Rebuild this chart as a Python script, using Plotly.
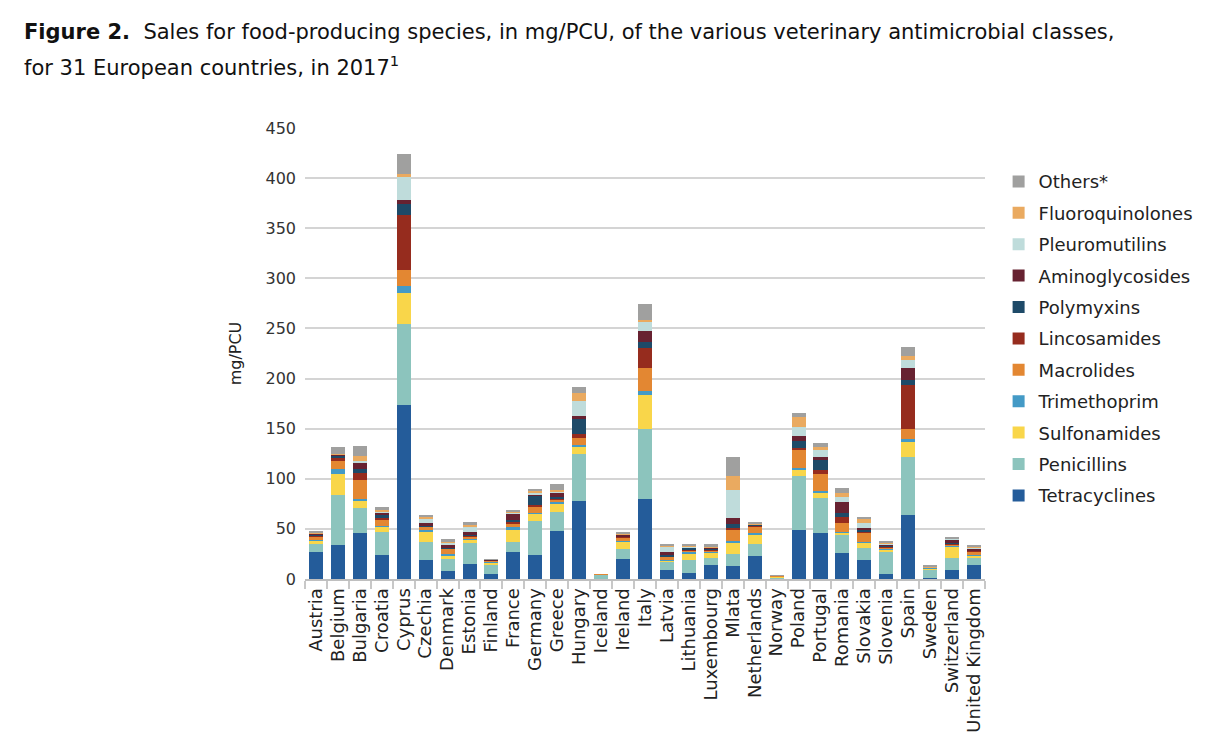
import plotly.graph_objects as go

countries = ["Austria", "Belgium", "Bulgaria", "Croatia", "Cyprus", "Czechia", "Denmark", "Estonia",
             "Finland", "France", "Germany", "Greece", "Hungary", "Iceland", "Ireland", "Italy",
             "Latvia", "Lithuania", "Luxembourg", "Mlata", "Netherlands", "Norway", "Poland",
             "Portugal", "Romania", "Slovakia", "Slovenia", "Spain", "Sweden", "Switzerland",
             "United Kingdom"]

tetracyclines = [26.6, 33.6, 45.5, 23.6, 174.0, 18.7, 7.7, 14.7, 4.7, 26.7, 23.7, 47.7, 77.7, 0.4, 19.7, 79.7,
                 8.7, 5.7, 13.7, 12.7, 22.7, 0.7, 48.7, 45.7, 25.7, 18.7, 4.7, 63.7, 1.0, 8.7, 13.7]
penicillins = [8.0, 49.8, 25.0, 23.0, 80.7, 18.0, 12.0, 21.0, 9.0, 10.0, 34.0, 19.0, 47.0, 3.6, 10.0, 70.0,
               8.0, 13.0, 7.0, 12.0, 12.0, 0.6, 54.0, 35.0, 18.0, 12.0, 22.0, 58.0, 7.7, 12.0, 7.0]
sulfonamides = [4.0, 20.9, 8.0, 6.0, 31.0, 10.0, 4.0, 4.0, 3.0, 12.0, 8.0, 8.0, 8.0, 0.2, 8.0, 34.0,
                2.0, 7.0, 6.0, 12.0, 9.0, 1.2, 7.0, 5.0, 3.0, 6.0, 3.0, 15.0, 2.0, 12.0, 3.0]
trimethoprim = [0.5, 5.0, 1.0, 0.7, 7.0, 2.3, 1.3, 0.5, 0.3, 2.7, 0.3, 2.0, 1.0, 0.4, 0.5, 4.0,
                0.3, 1.7, 1.0, 1.3, 2.0, 0.3, 1.0, 2.0, 0.3, 0.5, 0.3, 3.0, 0.3, 1.0, 0.5]
macrolides = [3.5, 8.0, 19.0, 6.3, 16.0, 3.0, 5.0, 1.8, 1.2, 4.3, 6.7, 3.0, 7.0, 0.2, 3.5, 23.0,
              3.0, 1.3, 1.0, 11.7, 7.0, 0.3, 19.0, 17.0, 9.0, 9.5, 1.5, 10.0, 0.7, 1.0, 3.5]
lincosamides = [0.5, 3.3, 7.0, 1.0, 54.0, 0.7, 0.5, 1.0, 0.5, 1.0, 1.0, 0.5, 4.0, 0.0, 0.5, 20.0,
                0.5, 1.0, 1.0, 1.0, 1.0, 0.0, 1.0, 4.3, 6.0, 1.0, 1.0, 44.0, 0.0, 0.5, 0.5]
polymyxins = [0.5, 2.7, 4.0, 3.0, 11.0, 0.5, 0.3, 0.5, 0.0, 2.0, 10.0, 1.5, 15.0, 0.0, 0.3, 6.0,
              1.5, 1.3, 0.5, 4.0, 0.3, 0.0, 7.0, 9.7, 4.0, 1.0, 0.5, 5.0, 0.0, 0.5, 0.5]
aminoglycosides = [2.0, 0.5, 6.0, 3.0, 4.0, 2.5, 2.8, 3.2, 0.6, 7.0, 0.3, 4.5, 3.0, 0.0, 1.5, 11.0,
                   3.0, 0.7, 1.0, 6.0, 0.5, 0.0, 5.0, 3.0, 11.0, 2.0, 1.5, 12.0, 0.0, 4.0, 1.5]
pleuromutilins = [0.0, 0.0, 2.0, 0.5, 23.0, 4.3, 3.3, 6.0, 0.0, 1.0, 2.0, 1.0, 15.0, 0.0, 0.5, 9.0,
                  5.0, 1.0, 0.5, 28.0, 0.3, 0.0, 9.0, 7.0, 5.0, 5.0, 0.5, 8.0, 0.0, 0.3, 1.0]
fluoroquinolones = [1.0, 1.2, 5.0, 1.5, 3.0, 1.4, 0.3, 1.3, 0.0, 0.5, 2.0, 2.0, 8.0, 0.0, 0.5, 2.0,
                    1.0, 0.3, 0.5, 14.0, 0.5, 0.2, 10.0, 3.0, 4.0, 4.0, 1.5, 4.0, 0.3, 0.3, 1.0]
others = [0.5, 6.3, 10.0, 3.0, 20.0, 2.3, 2.7, 2.7, 0.3, 1.5, 2.0, 6.0, 6.0, 0.0, 1.5, 16.0,
          1.0, 1.7, 2.5, 19.0, 1.5, 0.5, 4.0, 4.0, 5.0, 2.0, 1.3, 9.0, 1.0, 0.7, 1.0]

series_names = ["Tetracyclines", "Penicillins", "Sulfonamides", "Trimethoprim", "Macrolides",
                "Lincosamides", "Polymyxins", "Aminoglycosides", "Pleuromutilins",
                "Fluoroquinolones", "Others*"]
series_values = [tetracyclines, penicillins, sulfonamides, trimethoprim, macrolides, lincosamides,
                 polymyxins, aminoglycosides, pleuromutilins, fluoroquinolones, others]
series_colors = ["#245c9a", "#8cc4bd", "#f9d64a", "#449ac6", "#e38732", "#962c1e",
                 "#1e4a68", "#672231", "#bfdcdb", "#eaaa60", "#a0a09f"]

y_ticks = [0, 50, 100, 150, 200, 250, 300, 350, 400, 450]

fig = go.Figure()
n = len(series_names)
for i, (name, vals, col) in enumerate(zip(series_names, series_values, series_colors)):
    fig.add_trace(go.Bar(x=countries, y=vals, name=name, marker_color=col,
                         marker_line_width=0, legendgroup=name, legendrank=n - i))

FONT = "DejaVu Sans"
W, H = 1212, 748
L, T, PW, PH = 297, 120, 680, 451
fig.update_layout(
    barmode="stack",
    bargap=0.36,
    width=W, height=H,
    paper_bgcolor="white", plot_bgcolor="white",
    margin=dict(l=L, r=W - L - PW, t=T, b=H - T - PH, autoexpand=False),
    font=dict(family=FONT, size=16, color="#222222"),
    showlegend=True,
    legend=dict(traceorder="grouped", x=1.02, xanchor="left", y=0.922, yanchor="top",
                font=dict(family=FONT, size=18, color="#222222"), tracegroupgap=5,
                itemwidth=30, bgcolor="rgba(0,0,0,0)"),
    xaxis=dict(tickangle=-90, tickfont=dict(family=FONT, size=18, color="#222222"),
               tickmode="array", tickvals=countries, ticktext=countries,
               showline=True, linecolor="#bfbfbf", linewidth=2,
               ticks="outside", tickson="boundaries", ticklen=8, tickcolor="#c8c8c8", tickwidth=1.5,
               showgrid=False),
    yaxis=dict(range=[0, 450], tickvals=y_ticks, tickfont=dict(family=FONT, size=16, color="#333333"),
               showgrid=True, gridcolor="#d4d4d4", gridwidth=1.5, zeroline=False,
               title=dict(text="mg/PCU", font=dict(family=FONT, size=16, color="#222222"), standoff=19),
               ticks="", ticklabelstandoff=8),
    annotations=[
        dict(text="<b>Figure 2.</b>  Sales for food-producing species, in mg/PCU, of the various veterinary antimicrobial classes,",
             xref="paper", yref="paper", x=-(305 - 22) / PW, y=1 + (128 - 32) / PH, xanchor="left", yanchor="middle",
             showarrow=False, font=dict(family=FONT, size=21, color="#111111"), align="left"),
        dict(text="for 31 European countries, in 2017<sup>1</sup>",
             xref="paper", yref="paper", x=-(305 - 22) / PW, y=1 + (128 - 66) / PH, xanchor="left", yanchor="middle",
             showarrow=False, font=dict(family=FONT, size=21, color="#111111"), align="left"),
    ],
)

fig.write_html("out.html")
